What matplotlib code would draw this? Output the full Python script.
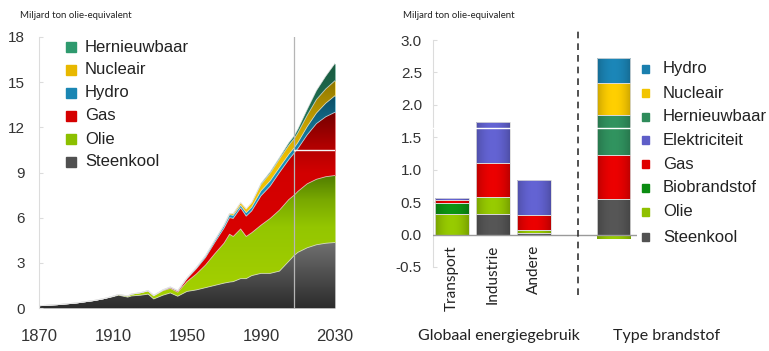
import numpy as np
import matplotlib
matplotlib.use('Agg')
import matplotlib.pyplot as plt
from matplotlib.colors import LinearSegmentedColormap, to_rgb
from matplotlib.patches import Rectangle

plt.rcParams['font.family'] = ['Liberation Sans', 'DejaVu Sans']
plt.rcParams['axes.unicode_minus'] = False

W, H = 769, 351

# ---- left chart: world energy use per source (cumulative stack) ----
years = [1870, 1880, 1890, 1900, 1905, 1910, 1913, 1918, 1920, 1925, 1929, 1932,
         1937, 1941, 1945, 1950, 1955, 1960, 1965, 1970, 1973, 1975, 1979, 1982,
         1985, 1990, 1995, 2000, 2005, 2008, 2010, 2015, 2020, 2025, 2030]
steenkool = [0.15, 0.22, 0.33, 0.50, 0.62, 0.75, 0.85, 0.72, 0.80, 0.85, 0.92, 0.60,
             0.85, 1.00, 0.78, 1.10, 1.20, 1.35, 1.50, 1.65, 1.72, 1.75, 1.95, 1.95,
             2.15, 2.30, 2.30, 2.45, 3.10, 3.50, 3.70, 4.00, 4.20, 4.30, 4.35]
olie = [0.0, 0.0, 0.0, 0.0, 0.0, 0.03, 0.05, 0.08, 0.12, 0.17, 0.20, 0.20,
        0.30, 0.30, 0.27, 0.65, 1.05, 1.50, 2.10, 2.65, 3.18, 3.00, 3.30, 2.80,
        2.85, 3.20, 3.65, 4.05, 4.10, 4.00, 4.05, 4.25, 4.35, 4.42, 4.45]
gas = [0.0, 0.0, 0.0, 0.0, 0.0, 0.0, 0.0, 0.0, 0.0, 0.0, 0.02, 0.02,
       0.03, 0.06, 0.07, 0.20, 0.35, 0.50, 0.75, 1.00, 1.10, 1.20, 1.40, 1.35,
       1.45, 1.95, 2.15, 2.50, 2.65, 2.80, 2.85, 3.25, 3.70, 3.98, 4.20]
hydro = [0.0, 0.0, 0.0, 0.0, 0.0, 0.0, 0.0, 0.0, 0.0, 0.0, 0.02, 0.02,
         0.03, 0.04, 0.04, 0.05, 0.08, 0.12, 0.15, 0.18, 0.20, 0.20, 0.17, 0.23,
         0.25, 0.33, 0.35, 0.33, 0.35, 0.35, 0.40, 0.55, 0.70, 0.90, 1.10]
nucleair = [0.0, 0.0, 0.0, 0.0, 0.0, 0.0, 0.0, 0.0, 0.0, 0.0, 0.0, 0.0,
            0.0, 0.0, 0.0, 0.0, 0.0, 0.0, 0.0, 0.04, 0.08, 0.12, 0.18, 0.25,
            0.30, 0.42, 0.50, 0.57, 0.60, 0.60, 0.65, 0.75, 0.90, 0.95, 1.00]
hernieuwbaar = [0.0, 0.0, 0.0, 0.0, 0.0, 0.0, 0.0, 0.0, 0.0, 0.0, 0.0, 0.0,
                0.0, 0.0, 0.0, 0.0, 0.0, 0.0, 0.0, 0.0, 0.0, 0.0, 0.0, 0.0,
                0.0, 0.08, 0.10, 0.10, 0.18, 0.20, 0.25, 0.40, 0.60, 0.85, 1.15]

left_yticks = [0, 3, 6, 9, 12, 15, 18]
left_xticks = [1870, 1910, 1950, 1990, 2030]
left_legend = ['Hernieuwbaar', 'Nucleair', 'Hydro', 'Gas', 'Olie', 'Steenkool']

# ---- right chart: use per sector and per fuel type ----
sectors = ['Transport', 'Industrie', 'Andere']
use_steenkool = [0.0, 0.31, 0.03]
use_olie = [0.31, 0.27, 0.04]
use_bio = [0.17, 0.0, 0.0]
use_gas = [0.05, 0.53, 0.23]
use_elek = [0.03, 0.63, 0.54]

type_names = ['Steenkool', 'Gas', 'Hernieuwbaar', 'Nucleair', 'Hydro']
type_values = [0.55, 0.67, 0.63, 0.48, 0.40]
type_olie = -0.07

right_legend = ['Hydro', 'Nucleair', 'Hernieuwbaar', 'Elektriciteit', 'Gas',
                'Biobrandstof', 'Olie', 'Steenkool']
right_yticks = [-0.5, 0.0, 0.5, 1.0, 1.5, 2.0, 2.5, 3.0]

bar_colors = {'Steenkool': '#525252', 'Olie': '#8fc000', 'Biobrandstof': '#0b8c12',
              'Gas': '#df0000', 'Elektriciteit': '#5e5ec8', 'Hernieuwbaar': '#2e8b5a',
              'Nucleair': '#f2c400', 'Hydro': '#1a7fae'}
left_colors = {'Hernieuwbaar': '#2e9a6e', 'Nucleair': '#e8b800', 'Hydro': '#1a86b3',
               'Gas': '#d50000', 'Olie': '#8cc000', 'Steenkool': '#505050'}


def fx(px):
    return px / W


def fy(py):
    return 1 - py / H


fig = plt.figure(figsize=(W / 100, H / 100), dpi=100)
fig.patch.set_facecolor('white')

# ================= left =================
ax = fig.add_axes([fx(39), fy(308), fx(296), 271 / H])
ax.set_xlim(1870, 2030)
ax.set_ylim(0, 18)

gradients = [
    (steenkool, [(0, '#2c2c2c'), (0.24, '#707070'), (1, '#707070')]),
    (olie, [(0, '#a8d200'), (0.3, '#94c600'), (0.4, '#78a800'), (0.5, '#4c7800'), (1, '#4c7800')]),
    (gas, [(0, '#e00000'), (0.5, '#d20000'), (0.6, '#b00000'), (0.72, '#760000'), (1, '#700000')]),
    (hydro, [(0, '#1ca0d0'), (0.55, '#1890b8'), (0.8, '#0b4a60'), (1, '#0b4a60')]),
    (nucleair, [(0, '#f7cc00'), (0.55, '#f0c000'), (0.85, '#8c7500'), (1, '#8c7500')]),
    (hernieuwbaar, [(0, '#2aa070'), (0.6, '#218060'), (0.9, '#1a5a40'), (1, '#1a5a40')]),
]
yrs = np.array(years, dtype=float)
base = np.zeros(len(years))
grad = np.linspace(0, 1, 256).reshape(-1, 1)
for vals, stops in gradients:
    top = base + np.array(vals)
    cmap = LinearSegmentedColormap.from_list('g', stops)
    poly = ax.fill_between(yrs, base, top, color=stops[1][1], lw=0, zorder=1)
    im = ax.imshow(grad, extent=[1870, 2030, 0, 18], origin='lower', aspect='auto',
                   cmap=cmap, zorder=1.5, interpolation='bilinear')
    im.set_clip_path(poly.get_paths()[0], transform=ax.transData)
    ax.plot(yrs, top, color='#e6e6e6', lw=0.6, alpha=0.8, zorder=2)
    base = top

ax.axvline(2008, color='#b5b5b5', lw=0.9, zorder=3)
ax.plot([2008, 2030], [10.5, 10.5], color='#f4f4f4', lw=1.0, zorder=3)

for s in ['top', 'right', 'bottom']:
    ax.spines[s].set_visible(False)
ax.spines['left'].set_color('#dcdcdc')
ax.set_yticks(left_yticks)
ax.set_xticks(left_xticks)
ax.tick_params(axis='y', direction='in', length=3, color='#dcdcdc', labelsize=11,
               labelcolor='#333333', pad=10)
ax.tick_params(axis='x', length=0, labelsize=12, labelcolor='#333333', pad=15)
ax.set_aspect('auto')

for i, name in enumerate(left_legend):
    ty = 47 + i * 23
    fig.add_artist(Rectangle((fx(66), fy(ty + 5)), fx(10), 10 / H,
                             transform=fig.transFigure, color=left_colors[name]))
    fig.text(fx(85), fy(ty), name, fontsize=12, color='#222222', va='center')

fig.text(fx(20), fy(15), 'Miljard ton olie-equivalent', fontsize=6.9,
         family=['Lato', 'DejaVu Sans'], color='#222222', va='center')

# ================= right =================
ax2 = fig.add_axes([fx(433), fy(267), fx(204), 227 / H])
xs = np.arange(len(sectors))
width = 0.82


def shaded(rects, color):
    rgb = np.array(to_rgb(color))
    t = np.linspace(-1, 1, 64)
    prof = 1.06 - 0.22 * t ** 2
    img = np.clip(rgb[None, :] * prof[:, None], 0, 1)[None, :, :]
    for r in rects:
        if r.get_height() == 0:
            continue
        x0, y0 = r.get_x(), r.get_y()
        im = ax2.imshow(img, extent=[x0, x0 + r.get_width(), y0, y0 + r.get_height()],
                        aspect='auto', zorder=2.5, interpolation='bilinear')
        im.set_clip_path(r)


bottom = np.zeros(len(sectors))
for name, vals in [('Steenkool', use_steenkool), ('Olie', use_olie),
                   ('Biobrandstof', use_bio), ('Gas', use_gas), ('Elektriciteit', use_elek)]:
    v = np.array(vals)
    rects = ax2.bar(xs, v, width, bottom=bottom, color=bar_colors[name], lw=0, zorder=2)
    shaded(rects, bar_colors[name])
    ax2.bar(xs, v, width, bottom=bottom, fill=False, edgecolor='#dadada', lw=0.6, zorder=3)
    bottom = bottom + v

tx = 3.95
rects = ax2.bar([tx], [type_olie], width, color=bar_colors['Olie'], lw=0, zorder=2)
shaded(rects, bar_colors['Olie'])
tb = 0.0
for name, v in zip(type_names, type_values):
    rects = ax2.bar([tx], [v], width, bottom=tb, color=bar_colors[name], lw=0, zorder=2)
    shaded(rects, bar_colors[name])
    ax2.bar([tx], [v], width, bottom=tb, fill=False, edgecolor='#dadada', lw=0.6, zorder=3)
    tb += v

ax2.axhline(1.64, color='white', lw=1.0, zorder=4)
ax2.axhline(0, color='#9a9a9a', lw=1.0, zorder=4)
ax2.plot([3.08, 3.08], [-0.93, 3.2], color='#333333', lw=1.2, ls=(0, (4, 3)),
         clip_on=False, zorder=4)

ax2.set_xlim(-0.46, 4.52)
ax2.set_ylim(-0.5, 3.0)
for s in ['top', 'right', 'bottom']:
    ax2.spines[s].set_visible(False)
ax2.spines['left'].set_color('#dcdcdc')
ax2.set_xticks([])
ax2.set_yticks(right_yticks)
ax2.set_yticklabels([f'{v:.1f}' for v in right_yticks])
ax2.tick_params(axis='y', direction='in', length=3, color='#dcdcdc', labelsize=11,
                labelcolor='#333333', pad=8)

for i, name in enumerate(sectors):
    ax2.text(xs[i], -0.16, name, rotation=90, ha='center', va='top', fontsize=11,
             family=['Lato', 'DejaVu Sans'], color='#222222')

legend_y = [69, 93, 117, 140, 164, 188, 212, 237]
for name, ty in zip(right_legend, legend_y):
    fig.add_artist(Rectangle((fx(641.5), fy(ty + 4)), fx(7), 8 / H,
                             transform=fig.transFigure, color=bar_colors[name]))
    fig.text(fx(663), fy(ty), name, fontsize=12, color='#222222', va='center')

fig.text(fx(403), fy(15), 'Miljard ton olie-equivalent', fontsize=6.9,
         family=['Lato', 'DejaVu Sans'], color='#222222', va='center')
fig.text(fx(499), fy(336), 'Globaal energiegebruik', fontsize=11.5, ha='center',
         va='center', family=['Lato', 'DejaVu Sans'], color='#222222')
fig.text(fx(667), fy(336), 'Type brandstof', fontsize=11.5, ha='center',
         va='center', family=['Lato', 'DejaVu Sans'], color='#222222')

fig.savefig('out.png', dpi=100)
